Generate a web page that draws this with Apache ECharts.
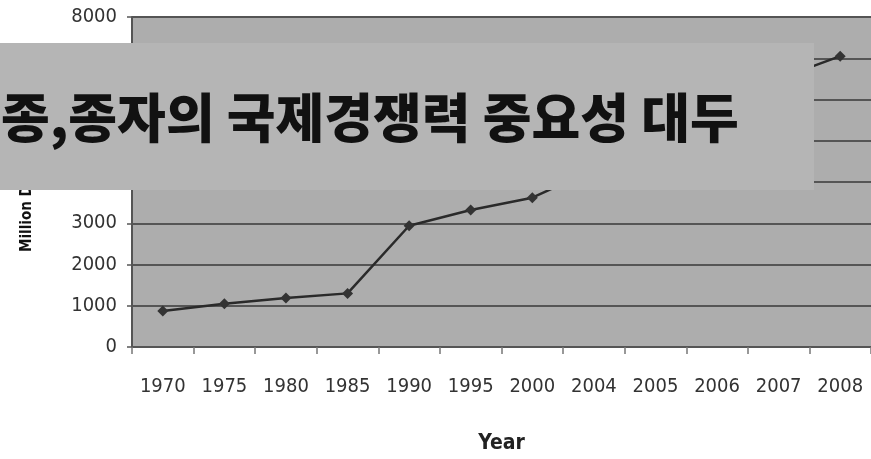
<!DOCTYPE html>
<html>
<head>
<meta charset="utf-8">
<script src="https://cdn.jsdelivr.net/npm/echarts@6/dist/echarts.min.js"></script>
<style>
html,body{margin:0;padding:0;background:#fff;}
#main{width:871px;height:459px;}
</style>
</head>
<body>
<div id="main"></div>
<script>
// ---- data ----
const years = ['1970','1975','1980','1985','1990','1995','2000','2004','2005','2006','2007','2008'];
const values = [870, 1050, 1190, 1300, 2940, 3320, 3620, 4300, 4900, 5800, 6500, 7050];
const yTicks = [0, 1000, 2000, 3000, 4000, 5000, 6000, 7000, 8000];
const bannerText = '종,종자의 국제경쟁력 중요성 대두';
const xName = 'Year';
const yName = 'Million Dollars';

const narrow = "'DejaVu Sans Condensed', 'Liberation Sans Narrow', 'Liberation Sans', sans-serif";

const chart = echarts.init(document.getElementById('main'), null, {renderer: 'canvas'});
chart.setOption({
  backgroundColor: '#ffffff',
  animation: false,
  grid: {left: 132, right: 0, top: 17, bottom: 108, show: true, backgroundColor: '#adadad', borderWidth: 0},
  xAxis: {
    type: 'category',
    data: years,
    boundaryGap: true,
    name: xName,
    nameLocation: 'middle',
    nameGap: 86,
    nameTextStyle: {fontFamily: narrow, fontSize: 21, fontWeight: 'bold', color: '#222'},
    axisLine: {show: true, lineStyle: {color: '#555', width: 2}},
    axisTick: {show: true, length: 7, alignWithLabel: false, lineStyle: {color: '#777', width: 1.5}},
    axisLabel: {margin: 30, fontFamily: narrow, fontSize: 20, color: '#333', interval: 0},
    splitLine: {show: false}
  },
  yAxis: {
    type: 'value',
    min: yTicks[0],
    max: yTicks[yTicks.length - 1],
    interval: 1000,
    axisLine: {show: true, lineStyle: {color: '#555', width: 2}},
    axisTick: {show: true, length: 5, lineStyle: {color: '#555', width: 1.5}},
    axisLabel: {margin: 15, fontFamily: narrow, fontSize: 20, color: '#333',
                formatter: function (v) { return String(v); }},
    splitLine: {show: true, lineStyle: {color: '#555', width: 2}}
  },
  series: [{
    type: 'line',
    data: values,
    symbol: 'diamond',
    symbolSize: 11,
    lineStyle: {color: '#2a2a2a', width: 2.5},
    itemStyle: {color: '#333'},
    z: 3
  }],
  graphic: [
    {
      type: 'text',
      x: 27, y: 252,
      rotation: Math.PI / 2,
      z: 50,
      style: {text: yName, fontSize: 15, fontWeight: 'bold', fontFamily: narrow, fill: '#111',
              textAlign: 'left', textVerticalAlign: 'middle', align: 'left', verticalAlign: 'middle'}
    },
    {
      type: 'rect',
      z: 100,
      shape: {x: 0, y: 43, width: 814, height: 147},
      style: {fill: '#b5b5b5'}
    },
    {
      type: 'text',
      z: 101,
      x: 1, y: 118,
      style: {text: bannerText, fontSize: 53, fontWeight: 900, fontFamily: "'Noto Sans CJK KR', sans-serif",
              fill: '#111', textAlign: 'left', textVerticalAlign: 'middle', align: 'left', verticalAlign: 'middle'}
    }
  ]
});
</script>
</body>
</html>
